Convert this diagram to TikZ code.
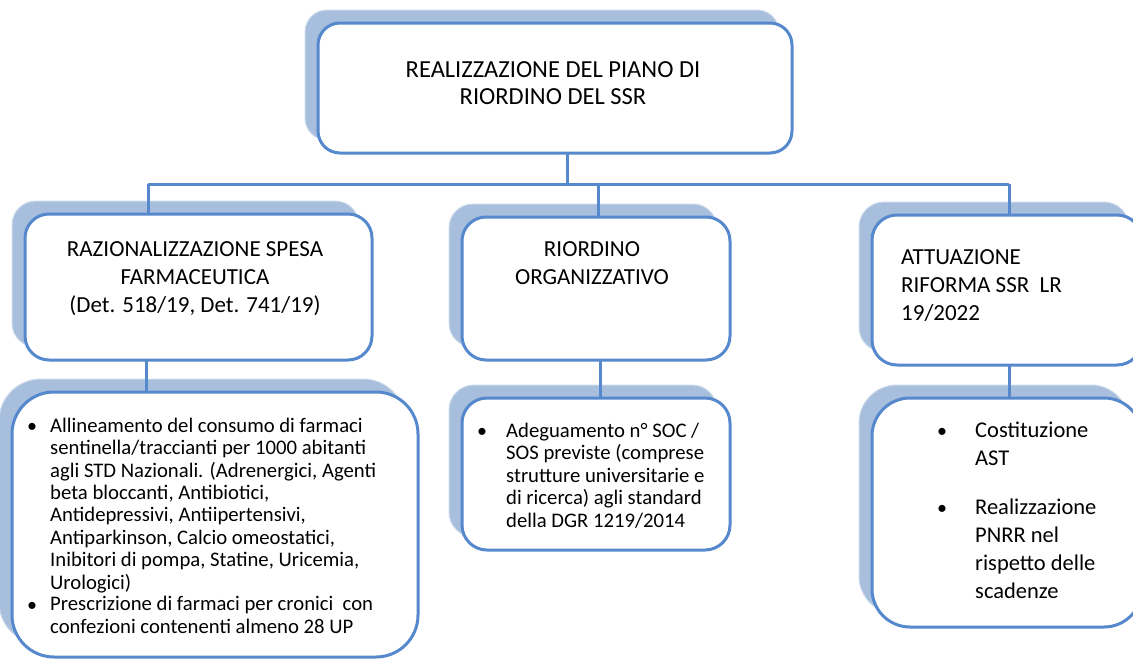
\documentclass[tikz,border=0pt]{standalone}
\usepackage{fontspec}
\setmainfont{Carlito}
\usetikzlibrary{shadows}
\definecolor{bordc}{HTML}{5588CC}
\definecolor{shadc}{HTML}{A7BFDD}
\begin{document}
\begin{tikzpicture}[x=1pt,y=-1pt,
  box/.style={draw=bordc, line width=3pt, fill=white, rounded corners=#1,
    inner sep=0pt, outer sep=0pt,
    copy shadow={shadow xshift=-13pt, shadow yshift=13pt, fill=shadc,
      draw=shadc!60!white, line width=1pt}},
  conn/.style={draw=bordc, line width=3pt},
  hdt/.style={font=\fontsize{24.5}{27}\selectfont, inner sep=0pt, align=center, anchor=base},
  hd/.style={font=\fontsize{23}{28}\selectfont, inner sep=0pt, align=center, anchor=base},
  hdl/.style={font=\fontsize{23}{28}\selectfont, inner sep=0pt, align=left, anchor=base west},
  bt/.style={font=\fontsize{20.7}{22.4}\selectfont, inner sep=0pt, align=left, anchor=base west},
  btw/.style={font=\fontsize{22.5}{28}\selectfont, inner sep=0pt, align=left, anchor=base west},
  bul/.style={font=\fontsize{20}{22}\selectfont, inner sep=0pt, anchor=base}
]
\useasboundingbox (0,0) rectangle (1133,659);
\clip (0,0) rectangle (1133,659);

% boxes
\node[box=22pt, minimum width=474pt, minimum height=130pt] (top) at (555,88) {};
\node[box=24pt, minimum width=347pt, minimum height=146pt] (l2a) at (198.5,287) {};
\node[box=24pt, minimum width=268pt, minimum height=143pt] (l2b) at (596,288.5) {};
\node[box=25pt, minimum width=270pt, minimum height=150pt] (l2c) at (1007,290) {};
\node[box=42pt, minimum width=406pt, minimum height=265pt] (l3a) at (215,524.5) {};
\node[box=25pt, minimum width=268pt, minimum height=152pt] (l3b) at (596,474) {};
\node[box=38pt, minimum width=270pt, minimum height=229pt] (l3c) at (1007,512.5) {};

% connectors
\coordinate (busL) at (148,184);
\coordinate (busR) at (1009,184);
\draw[conn] (busL) -- (busR);
\draw[conn] ([xshift=12pt]top.south) -- ([xshift=12pt]top.south |- busL);
\draw[conn] (busL) -- (busL |- l2a.north);
\draw[conn] ([xshift=2pt]l2b.north |- busL) -- ([xshift=2pt]l2b.north);
\draw[conn] (busR) -- (busR |- l2c.north);
\draw[conn] ([xshift=-52pt]l2a.south) -- ([xshift=-52pt]l2a.south |- l3a.north);
\draw[conn] ([xshift=4pt]l2b.south) -- ([xshift=4pt]l2b.south |- l3b.north);
\draw[conn] ([xshift=2pt]l2c.south) -- ([xshift=2pt]l2c.south |- l3c.north);

% texts (anchor = baseline of the last line)
\node[hdt] (ttop) at (553,104) {REALIZZAZIONE DEL PIANO DI\\RIORDINO DEL SSR};
\node[hd] (t2a) at (195,312) {RAZIONALIZZAZIONE SPESA\\FARMACEUTICA\\(Det. 518/19, Det. 741/19)};
\node[hd] (t2b) at (592,284) {RIORDINO\\ORGANIZZATIVO};
\node[hdl] (t2c) at (901,320) {ATTUAZIONE\\RIFORMA SSR\ \ LR\\19/2022};

\node[bul] (b3a1) at (32,432) {•};
\node[bt] (t3a1) at (50,589) {Allineamento del consumo di farmaci\\sentinella/traccianti per 1000 abitanti\\agli STD Nazionali. (Adrenergici, Agenti\\beta bloccanti, Antibiotici,\\Antidepressivi, Antiipertensivi,\\Antiparkinson, Calcio omeostatici,\\Inibitori di pompa, Statine, Uricemia,\\Urologici)};
\node[bul] (b3a2) at (32,611) {•};
\node[bt] (t3a2) at (50,633) {Prescrizione di farmaci per cronici\ \ con\\confezioni contenenti almeno 28 UP};

\node[bul] (b3b) at (482,437) {•};
\node[bt] (t3b) at (506,527) {Adeguamento n° SOC /\\SOS previste (comprese\\strutture universitarie e\\di ricerca) agli standard\\della DGR 1219/2014};

\node[bul] (b3c1) at (942,437) {•};
\node[btw] (t3c1) at (975,465) {Costituzione\\AST};
\node[bul] (b3c2) at (942,514) {•};
\node[btw] (t3c2) at (975,598) {Realizzazione\\PNRR nel\\rispetto delle\\scadenze};
\end{tikzpicture}
\end{document}
